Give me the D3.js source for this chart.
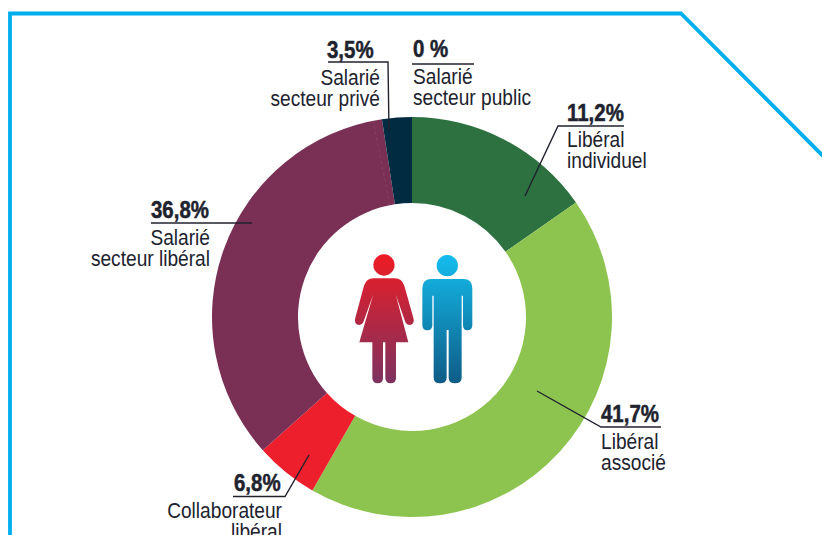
<!DOCTYPE html>
<html lang="fr">
<head>
  <meta charset="UTF-8" />
  <title>Statut des professionnels</title>
  <script src="https://d3js.org/d3.v7.min.js"></script>
  <style>
    html, body { margin: 0; padding: 0; background: #fff; overflow: hidden; }
    svg { display: block; }
    text { font-family: 'Liberation Sans', sans-serif; fill: #20222e; }
    .pct { font-size: 23.5px; font-weight: bold; stroke: #20222e; stroke-width: 0.5px; }
    .name { font-size: 22px; }
    .leader { fill: none; stroke: #20222e; stroke-width: 1.4px; }
  </style>
</head>
<body>
  <svg id="chart" width="822" height="535"></svg>

  <script>
    const categories = ["Libéral individuel", "Libéral associé", "Collaborateur libéral", "Salarié secteur libéral", "Salarié secteur privé", "Salarié secteur public"];
    // printed figures
    const percentLabels = ["11,2%", "41,7%", "6,8%", "36,8%", "3,5%", "0 %"];
    // slice sizes as they are drawn in the picture (they differ from the printed figures)
    const drawnShares = [15.3, 43.0, 5.1, 34.2, 2.4, 0];
    const sliceColors = ["#2c713f", "#8dc450", "#ee1f2d", "#7a2f55", "#002b40", "#002b40"];

    const svg = d3.select("#chart");
    const cx = 412, cy = 317, outerR = 200, innerR = 114;

    // frame
    svg.append("path")
      .attr("d", d3.line()([[10, 535], [10, 13.5], [681, 13.5], [824, 157]]))
      .attr("fill", "none")
      .attr("stroke", "#00aeef")
      .attr("stroke-width", 3.8);

    // donut
    const pie = d3.pie().sort(null).value(d => d)(drawnShares);
    const arc = d3.arc().innerRadius(innerR).outerRadius(outerR);
    const ring = svg.append("g").attr("transform", `translate(${cx},${cy})`);

    ring.selectAll("path")
      .data(pie)
      .enter()
      .append("path")
      .attr("d", arc)
      .attr("fill", (d, i) => sliceColors[i]);

    // faint dashed seam inside the purple slice
    const seam = pie[3].endAngle - 0.045;
    ring.append("line")
      .attr("x1", innerR * Math.sin(seam)).attr("y1", -innerR * Math.cos(seam))
      .attr("x2", outerR * Math.sin(seam)).attr("y2", -outerR * Math.cos(seam))
      .attr("stroke", "#8a4670")
      .attr("stroke-width", 0.7)
      .attr("stroke-dasharray", "3 3");

    // labels, in the same order as categories
    const labelLayout = [
      { x: 567, y: 121, lines: ["Libéral", "individuel"], nameX: 567, nameY: 147,
        leader: [[624, 126], [558, 126], [525, 196]] },
      { x: 601, y: 422, lines: ["Libéral", "associé"], nameX: 601, nameY: 449,
        leader: [[661, 427], [601, 427], [537, 391]] },
      { x: 234, y: 491, lines: ["Collaborateur", "libéral"], nameX: 282, nameY: 518, nameAnchor: "end",
        leader: [[233, 496.5], [285, 496.5], [309, 455]] },
      { x: 151, y: 218, lines: ["Salarié", "secteur libéral"], nameX: 210, nameY: 245, nameAnchor: "end",
        leader: [[151, 223], [252, 223]] },
      { x: 327, y: 58, lines: ["Salarié", "secteur privé"], nameX: 380, nameY: 85, nameAnchor: "end",
        leader: [[328, 62], [388, 62], [389, 131]] },
      { x: 413, y: 57, lines: ["Salarié", "secteur public"], nameX: 413, nameY: 84,
        leader: [[412, 64], [474, 64]] }
    ];

    const labels = svg.selectAll("g.label")
      .data(labelLayout)
      .enter()
      .append("g")
      .attr("class", "label");

    labels.append("path")
      .attr("class", "leader")
      .attr("d", d => d3.line()(d.leader));

    // the original type is condensed, so squeeze the text horizontally
    labels.append("text")
      .attr("class", "pct")
      .attr("transform", d => `translate(${d.x},${d.y}) scale(0.87,1)`)
      .text((d, i) => percentLabels[i]);

    labels.each(function(d) {
      d3.select(this).selectAll("text.name")
        .data(d.lines)
        .enter()
        .append("text")
        .attr("class", "name")
        .attr("transform", (l, j) => `translate(${d.nameX},${d.nameY + j * 21}) scale(0.87,1)`)
        .attr("text-anchor", d.nameAnchor || "start")
        .text(l => l);
    });

    // pictogram
    const defs = svg.append("defs");
    function addGradient(id, top, bottom) {
      const g = defs.append("linearGradient").attr("id", id).attr("x1", 0).attr("x2", 0).attr("y1", 0).attr("y2", 1);
      g.append("stop").attr("offset", "0%").attr("stop-color", top);
      g.append("stop").attr("offset", "100%").attr("stop-color", bottom);
    }
    addGradient("womanFill", "#ed1c24", "#7d3260");
    addGradient("manFill", "#14bdee", "#0e5c86");

    const icons = svg.append("g").attr("transform", "translate(340,245) scale(0.3333)");

    icons.append("path")
      .attr("fill", "url(#womanFill)")
      .attr("d", "M132,28 A32,32 0 1 1 131.9,28 Z M100,100 L165,100 Q185,100 193,122 L221,222 Q224,239 208,240 Q198,240 194,226 L167,148 L205,292 L168,292 L168,400 Q168,415 152,415 Q137,415 136,400 L136,292 L129,292 L129,400 Q129,415 113,415 Q98,415 97,400 L97,292 L58,292 L100,148 L72,226 Q68,240 58,240 Q42,239 45,222 L72,122 Q80,100 100,100 Z");

    icons.append("path")
      .attr("fill", "url(#manFill)")
      .attr("d", "M322,30 A32,32 0 1 1 321.9,30 Z M275,102 L370,102 Q397,102 397,130 L397,240 Q397,256 382,256 Q369,256 369,240 L369,152 L365,152 L365,398 Q365,415 345,415 Q326,415 326,398 L326,255 L320,255 L320,398 Q320,415 300,415 Q281,415 281,398 L281,152 L277,152 L277,240 Q277,256 262,256 Q247,256 247,240 L247,130 Q247,102 275,102 Z");
  </script>
</body>
</html>
